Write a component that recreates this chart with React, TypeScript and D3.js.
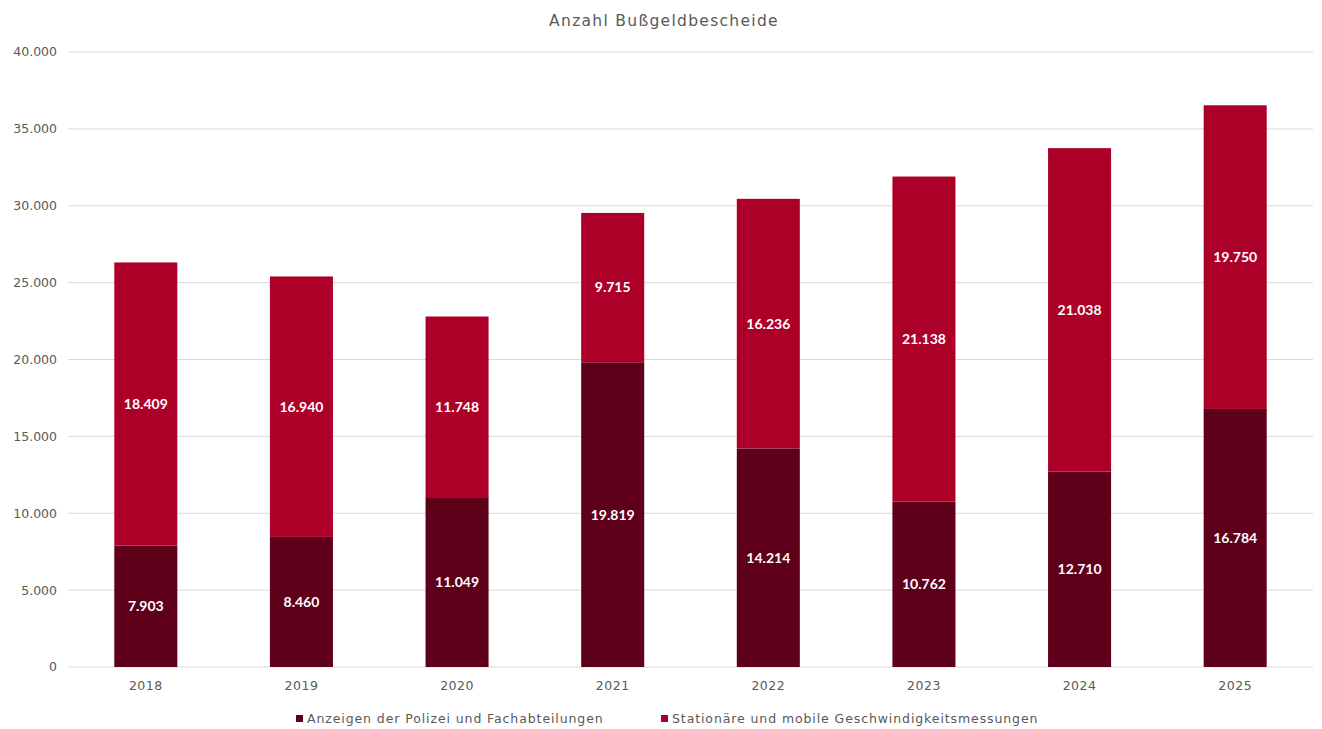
import React from "react";
import * as d3 from "d3";

const years = ["2018", "2019", "2020", "2021", "2022", "2023", "2024", "2025"];
const polizei = [7903, 8460, 11049, 19819, 14214, 10762, 12710, 16784];
const messungen = [18409, 16940, 11748, 9715, 16236, 21138, 21038, 19750];
const yTicks = [0, 5000, 10000, 15000, 20000, 25000, 30000, 35000, 40000];
const seriesNames = ["Anzeigen der Polizei und Fachabteilungen", "Stationäre und mobile Geschwindigkeitsmessungen"];
const colors = ["#5E0019", "#AD0029"];

const W = 1322, H = 729;
const m = { left: 68, right: 9, top: 52, bottom: 62 };
const FONT = "'DejaVu Sans', sans-serif";
const LABEL_FONT = "Lato, sans-serif";

const fmt = (v: number) => d3.format(",")(v).replace(/,/g, ".");

export default function App() {
  const x = d3.scaleBand().domain(years).range([m.left, W - m.right]).paddingInner(0.595).paddingOuter(0.2975);
  const y = d3.scaleLinear().domain([0, 40000]).range([H - m.bottom, m.top]);
  const stack = years.map((yr, i) => ({ yr, a: polizei[i], b: messungen[i] }));
  return (
    <div style={{ position: "fixed", left: 0, top: 0 }}>
      <svg width={W} height={H} style={{ display: "block", background: "#fff" }} fontFamily={FONT}>
        <text x={664} y={21} dy="0.35em" textAnchor="middle" fontSize={15.5} letterSpacing={1.3} fill="#595959">Anzahl Bußgeldbescheide</text>
        {yTicks.map((t) => (
          <g key={t}>
            <line x1={m.left} x2={W - m.right} y1={y(t)} y2={y(t)} stroke="#D9D9D9" strokeWidth={1} />
            <text x={57} y={y(t)} dy="0.35em" textAnchor="end" fontSize={12.5} fill="#595959">{fmt(t)}</text>
          </g>
        ))}
        {stack.map((d) => {
          const bx = x(d.yr)!;
          const bw = x.bandwidth();
          const ya = y(d.a), yb = y(d.a + d.b);
          return (
            <g key={d.yr}>
              <rect x={bx} width={bw} y={ya} height={y(0) - ya} fill={colors[0]} />
              <rect x={bx} width={bw} y={yb} height={ya - yb} fill={colors[1]} />
              <text x={bx + bw / 2} y={(ya + y(0)) / 2} dy="0.35em" textAnchor="middle" fontFamily={LABEL_FONT} fontSize={14} fontWeight="bold" fill="#fff">{fmt(d.a)}</text>
              <text x={bx + bw / 2} y={(ya + yb) / 2} dy="0.35em" textAnchor="middle" fontFamily={LABEL_FONT} fontSize={14} fontWeight="bold" fill="#fff">{fmt(d.b)}</text>
              <text x={bx + bw / 2} y={y(0) + 19} dy="0.35em" textAnchor="middle" fontSize={12.5} letterSpacing={0.5} fill="#595959">{d.yr}</text>
            </g>
          );
        })}
        <g>
          <rect x={296} y={715} width={7} height={7} fill={colors[0]} />
          <text x={307} y={719} dy="0.35em" fontSize={12.5} letterSpacing={0.9} fill="#595959">{seriesNames[0]}</text>
          <rect x={661} y={715} width={7} height={7} fill={colors[1]} />
          <text x={672} y={719} dy="0.35em" fontSize={12.5} letterSpacing={0.9} fill="#595959">{seriesNames[1]}</text>
        </g>
      </svg>
    </div>
  );
}
